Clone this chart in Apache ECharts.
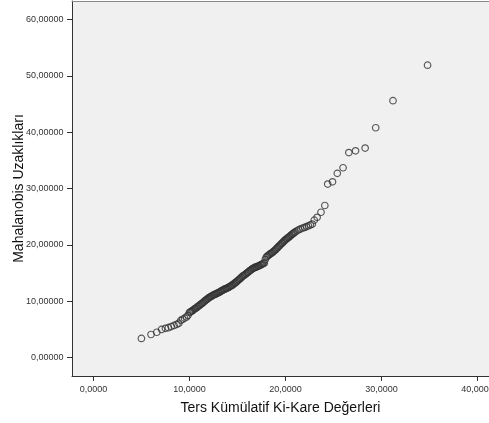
<!DOCTYPE html>
<html><head><meta charset="utf-8">
<script src="https://cdn.jsdelivr.net/npm/echarts@6/dist/echarts.min.js"></script>
<style>html,body{margin:0;padding:0;background:#fff}#c{width:489px;height:423px}</style>
</head><body><div id="c"></div>
<script>
const xTicks = [0, 10, 20, 30, 40];
const yTicks = [0, 10, 20, 30, 40, 50, 60];
const chiQuantiles = [
  5.0,6.0,6.6,7.1,7.5,7.8,8.1,8.4,8.7,8.9,9.1,9.3,9.5,9.7,9.85,
  10.0,10.1,10.2,10.3,10.4,10.5,10.6,10.7,10.8,10.9,11.0,11.1,11.2,11.3,11.4,11.5,11.6,11.7,11.8,11.9,
  12.0,12.1,12.2,12.3,12.4,12.5,12.6,12.7,12.8,12.9,13.0,13.1,13.2,13.3,13.4,13.5,13.6,13.7,13.8,13.9,
  14.0,14.1,14.2,14.3,14.4,14.5,14.6,14.7,14.8,14.9,15.0,15.1,15.2,15.3,15.4,15.5,15.6,15.7,15.8,15.9,
  16.0,16.1,16.2,16.3,16.4,16.5,16.6,16.7,16.8,16.9,17.0,17.1,17.2,17.3,17.4,17.5,17.6,17.7,17.8,17.9,
  18.0,18.1,18.2,18.3,18.4,18.5,18.6,18.7,18.8,18.9,19.0,19.1,19.2,19.3,19.4,19.5,19.6,19.7,19.8,19.9,
  20.0,20.1,20.2,20.3,20.4,20.5,20.6,20.7,20.8,20.9,21.0,21.2,21.4,21.6,21.8,22.0,22.2,22.4,22.6,22.8,
  23.0,23.3,23.7,24.1,24.4,24.9,25.4,26.0,26.6,27.3,28.3,29.4,31.2,34.8];
const mahalanobis = [
  3.4,4.1,4.5,5.0,5.2,5.3,5.5,5.7,5.9,6.1,6.6,6.8,7.0,7.2,7.5,
  8.0,8.1,8.2,8.3,8.45,8.6,8.7,8.8,8.95,9.1,9.2,9.35,9.5,9.6,9.75,9.9,10.05,10.2,10.3,10.45,
  10.6,10.7,10.8,10.9,11.0,11.1,11.2,11.25,11.35,11.4,11.5,11.6,11.7,11.8,11.9,12.0,12.1,12.15,12.25,12.3,
  12.4,12.5,12.6,12.7,12.8,12.9,13.05,13.2,13.3,13.45,13.6,13.75,13.9,14.05,14.2,14.4,14.5,14.6,14.75,14.9,
  15.0,15.15,15.3,15.45,15.55,15.7,15.8,15.9,16.0,16.05,16.1,16.2,16.25,16.35,16.45,16.5,16.6,16.7,16.8,17.4,
  17.8,18.0,18.1,18.25,18.4,18.5,18.6,18.75,18.9,19.05,19.2,19.4,19.55,19.75,19.9,20.1,20.25,20.4,20.6,20.75,
  20.9,21.05,21.2,21.3,21.45,21.6,21.75,21.9,22.0,22.15,22.3,22.5,22.7,22.85,23.0,23.1,23.25,23.4,23.55,23.7,
  24.4,24.9,25.8,27.0,30.8,31.2,32.7,33.7,36.4,36.7,37.2,40.8,45.6,51.9];
const xTitle = 'Ters Kümülatif Ki-Kare Değerleri';
const yTitle = 'Mahalanobis Uzaklıkları';

const points = chiQuantiles.map((x, i) => [x, mahalanobis[i]]);
const fmt = (v, d) => v.toFixed(d).replace('.', ',');
const chart = echarts.init(document.getElementById('c'), null, {renderer: 'canvas'});
chart.setOption({
  animation: false,
  backgroundColor: '#ffffff',
  grid: {left: 72, top: 1, right: 0, bottom: 47, show: true, backgroundColor: '#f0f0f0', borderWidth: 0,
         containLabel: false, outerBoundsMode: 'none'},
  xAxis: [{
    type: 'value', min: -2.23, max: 41.2,
    axisLine: {show: true, onZero: false, lineStyle: {color: '#333', width: 1}},
    axisTick: {show: true, length: 5, customValues: xTicks, lineStyle: {color: '#333'}},
    axisLabel: {customValues: xTicks, formatter: v => fmt(v, 4), color: '#333', fontFamily: 'Liberation Sans', fontSize: 9, margin: 9, hideOverlap: false},
    splitLine: {show: false},
    name: xTitle, nameLocation: 'middle', nameGap: 25, nameMoveOverlap: false,
    nameTextStyle: {color: '#111', fontFamily: 'Liberation Sans', fontSize: 14}
  }, {
    type: 'value', position: 'top', min: -2.23, max: 41.2,
    axisLine: {show: true, onZero: false, lineStyle: {color: '#888', width: 1}},
    axisTick: {show: false}, axisLabel: {show: false}, splitLine: {show: false}
  }],
  yAxis: {
    type: 'value', min: -3.27, max: 63.3,
    axisLine: {show: true, onZero: false, lineStyle: {color: '#333', width: 1}},
    axisTick: {show: true, length: 5, customValues: yTicks, lineStyle: {color: '#333'}},
    axisLabel: {customValues: yTicks, formatter: v => fmt(v, 5), color: '#333', fontFamily: 'Liberation Sans', fontSize: 9, margin: 8.5},
    splitLine: {show: false},
    name: yTitle, nameLocation: 'middle', nameGap: 46, nameRotate: 90, nameMoveOverlap: false,
    nameTextStyle: {color: '#111', fontFamily: 'Liberation Sans', fontSize: 14}
  },
  series: [{
    type: 'scatter', xAxisIndex: 0, data: points,
    symbol: 'circle', symbolSize: 6.5,
    itemStyle: {color: 'rgba(0,0,0,0)', borderColor: '#333', borderWidth: 1.2},
    emphasis: {disabled: true}
  }]
});
</script></body></html>
